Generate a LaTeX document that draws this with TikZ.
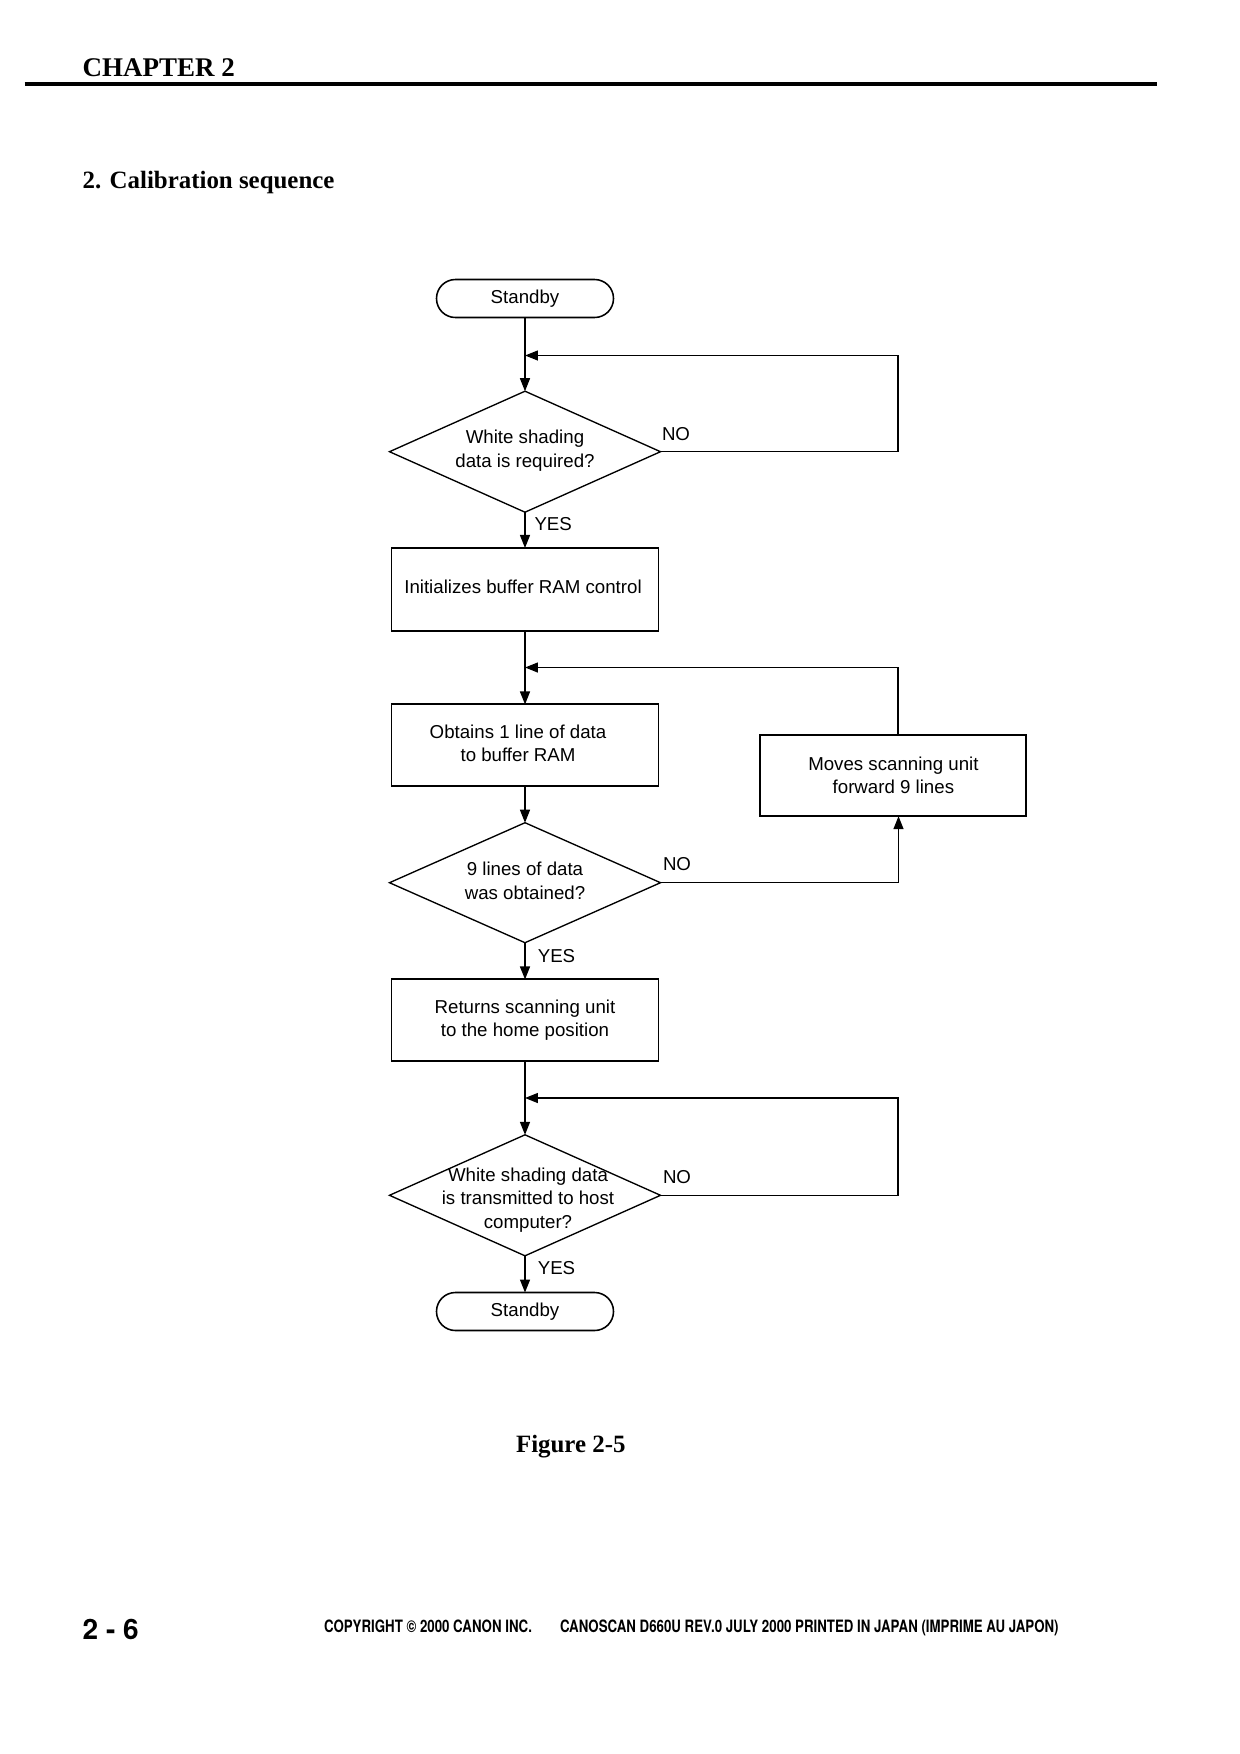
\documentclass[tikz,border=0pt]{standalone}
\usepackage{fontspec}
\setmainfont{Liberation Serif}
\newfontfamily\flowfont{Liberation Sans}
\newfontfamily\footfont[FakeStretch=0.78]{TeX Gyre Heros}
\newfontfamily\pagefont{TeX Gyre Heros}
\usetikzlibrary{shapes.geometric,arrows.meta}
\newdimen\pxu \pxu=0.16935mm
\tikzset{
  every node/.style={inner sep=0pt, outer sep=0pt},
  flowtext/.style={font=\flowfont\fontsize{9}{11.3}\selectfont, align=center, text=black},
  term/.style={draw, line width=0.75pt, rectangle, rounded corners=3.2mm, minimum width=177\pxu, minimum height=38\pxu, flowtext},
  proc/.style={draw, line width=0.95pt, rectangle, minimum width=267\pxu, minimum height=82\pxu, flowtext},
  dec/.style={draw, line width=0.65pt, diamond, minimum width=271\pxu, minimum height=121\pxu},
  conn/.style={line width=0.62pt},
  arr/.style={conn, -{Triangle[length=2.2mm, width=1.7mm]}},
  yn/.style={flowtext, anchor=west},
  headfont/.style={font=\bfseries\fontsize{13}{15}\selectfont},
  secfont/.style={font=\bfseries\fontsize{12}{14}\selectfont},
  footsty/.style={font=\footfont\bfseries\fontsize{8.2}{10}\selectfont, anchor=base west},
}
\begin{document}
\begin{tikzpicture}[x=0.16935mm, y=-0.16935mm]
\fill[white] (0,0) rectangle (1240,1754);
\useasboundingbox (0,0) rectangle (1240,1754);

% header
\node[headfont, anchor=base west] (chap) at (82.7,76) {CHAPTER 2};
\draw[line width=0.76mm] (24.6,84) -- (1157,84);
\node[secfont, anchor=base west] (sec) at (82.7,188) {2. Calibration sequence};

% flowchart nodes
\node[term] (st1) at (525,298.5) {Standby};
\coordinate (j1) at (525,355.5);
\node[dec] (d1) at (525,451.7) {};
\node[flowtext] (d1t) at (525,450.5) {White shading\\data is required?};
\node[proc, minimum height=82.7\pxu] (b1) at (525,589.3) {};
\node[flowtext] (b1t) at (523,587) {Initializes buffer RAM control};
\coordinate (j2) at (525,667.5);
\node[proc, minimum height=81.6\pxu] (b2) at (525,745.2) {};
\node[flowtext] (b2t) at (518,743.5) {Obtains 1 line of data\\to buffer RAM};
\node[proc, minimum width=266\pxu, minimum height=81.6\pxu] (mv) at (893.4,775.4) {Moves scanning unit\\forward 9 lines};
\node[dec, minimum height=120\pxu] (d2) at (525,882.7) {};
\node[flowtext] (d2t) at (525,881) {9 lines of data\\was obtained?};
\node[proc, minimum height=81.6\pxu] (b3) at (525,1020.2) {Returns scanning unit\\to the home position};
\coordinate (j3) at (525,1098);
\node[dec] (d3) at (525,1195.3) {};
\node[flowtext] (d3t) at (528,1200) {White shading data\\is transmitted to host\\computer?};
\node[term] (st2) at (525,1311.5) {Standby};
\coordinate (rc) at (898,0);
\coordinate (mvn) at (898,760);
\coordinate (mvs) at (898.5,816.2);

% connectors
\draw[arr] (st1.south) -- (d1.north);
\draw[arr] (d1.east) -- (d1.east -| rc) |- (j1);
\draw[arr] (d1.south) -- (b1.north);
\draw[arr] (b1.south) -- (b2.north);
\draw[arr] (mv.north -| mvn) |- (j2);
\draw[arr] (b2.south) -- (d2.north);
\draw[arr] (d2.east) -| (mv.south -| mvs);
\draw[arr] (d2.south) -- (b3.north);
\draw[arr] (b3.south) -- (d3.north);
\draw[arr] (d3.east) -- (d3.east -| rc) |- (j3);
\draw[arr] (d3.south) -- (st2.north);

% yes / no labels
\node[yn] (no1) at (662,434) {NO};
\node[yn] (yes1) at (534.5,524.4) {YES};
\node[yn] (no2) at (663,864.3) {NO};
\node[yn] (yes2) at (537.8,956) {YES};
\node[yn] (no3) at (663,1177.4) {NO};
\node[yn] (yes3) at (537.8,1268) {YES};

% caption and footer
\node[secfont, anchor=base] (fig) at (570.8,1452.5) {Figure 2-5};
\node[font=\pagefont\bfseries\fontsize{13.5}{16}\selectfont, anchor=base west] (pg) at (82.7,1639) {2 - 6};
\node[footsty] (cp) at (324,1632.5) {COPYRIGHT © 2000 CANON INC.};
\node[footsty] (cs) at (560,1632.5) {CANOSCAN D660U REV.0 JULY 2000 PRINTED IN JAPAN (IMPRIME AU JAPON)};
\end{tikzpicture}
\end{document}
